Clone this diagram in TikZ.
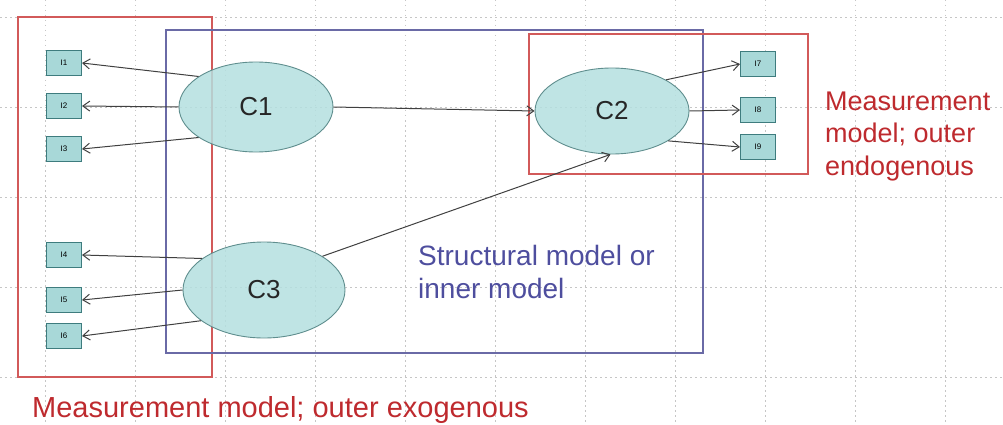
\documentclass[tikz,border=0pt]{standalone}
\usepackage{fontspec}
\setmainfont{Liberation Sans}
\usetikzlibrary{arrows.meta,shapes.geometric}
\definecolor{latentfill}{HTML}{B4DFDF}
\definecolor{latentline}{HTML}{5F8E8E}
\definecolor{indfill}{HTML}{A8D8D8}
\definecolor{indline}{HTML}{3E7C7E}
\definecolor{measred}{HTML}{D25A5A}
\definecolor{textred}{HTML}{BE2A2E}
\definecolor{structblue}{HTML}{6A6AA6}
\definecolor{textblue}{HTML}{4E4E9E}
\definecolor{arrowgray}{HTML}{404040}

\begin{document}
\begin{tikzpicture}[
  x=1pt,y=-1pt,
  gridline/.style={gray!45,line width=0.8pt,dash pattern=on 1.5pt off 3.5pt},
  measbox/.style={draw=measred,line width=1.1pt},
  structbox/.style={draw=structblue,line width=1.1pt},
  latent/.style={ellipse,draw=latentline,fill=latentfill,fill opacity=0.85,text opacity=1,inner sep=0pt,line width=0.9pt,text=black!85,font=\fontsize{26}{30}\selectfont},
  ind/.style={draw=indline,fill=indfill,minimum width=35pt,minimum height=25pt,inner sep=0pt,line width=1pt,font=\fontsize{8}{9}\selectfont},
  path/.style={-{Straight Barb[length=7pt,width=10pt]},draw=arrowgray,line width=1pt},
  label/.style={inner sep=0pt,anchor=base west,align=left,font=\fontsize{28}{33}\selectfont}
]
\useasboundingbox (0,0) rectangle (1003,425);
% background grid
\foreach \gx in {45,135,...,945}
  \draw[gridline] (\gx,0) -- (\gx,425);
\foreach \gy in {17,107,197,287,377}
  \draw[gridline] (0,\gy) -- (1003,\gy);

% model frames
\draw[measbox] (18,17) rectangle (212,377);
\draw[structbox] (166,30) rectangle (703,353);
\draw[measbox] (529,34) rectangle (808,174);

% constructs
\node[latent,minimum width=154pt,minimum height=90pt] (C1) at (256,107) {C1};
\node[latent,minimum width=154pt,minimum height=86pt] (C2) at (612,111) {C2};
\node[latent,minimum width=162pt,minimum height=96pt] (C3) at (264,290) {C3};

% indicators
\node[ind] (I1) at (64,63) {I1};
\node[ind] (I2) at (64,106) {I2};
\node[ind] (I3) at (64,149) {I3};
\node[ind] (I4) at (64,255) {I4};
\node[ind] (I5) at (64,300) {I5};
\node[ind] (I6) at (64,336) {I6};
\node[ind] (I7) at (758,64) {I7};
\node[ind] (I8) at (758,110) {I8};
\node[ind] (I9) at (758,147) {I9};

\draw[path] (C1.152) -- (I1.east);
\draw[path] (C1.west) -- (I2.east);
\draw[path] (C1.208) -- (I3.east);
\draw[path] (C1.east) -- (C2.west);
\draw[path] (C3.153) -- (I4.east);
\draw[path] (C3.west) -- (I5.east);
\draw[path] (C3.206) -- (I6.east);
\draw[path] (C3.30) -- (C2.268);
\draw[path] (C2.30) -- (I7.west);
\draw[path] (C2.east) -- (I8.west);
\draw[path] (C2.332) -- (I9.west);

% labels (base = last line)
\node[label,text=textblue] (inner) at (418,298) {Structural model or\\inner model};
\node[label,text=textred,font=\fontsize{27}{32.5}\selectfont] (endo) at (825,175) {Measurement\\model; outer\\endogenous};
\node[label,text=textred,font=\fontsize{29}{33}\selectfont] (exo) at (32,417) {Measurement model; outer exogenous};
\end{tikzpicture}
\end{document}
